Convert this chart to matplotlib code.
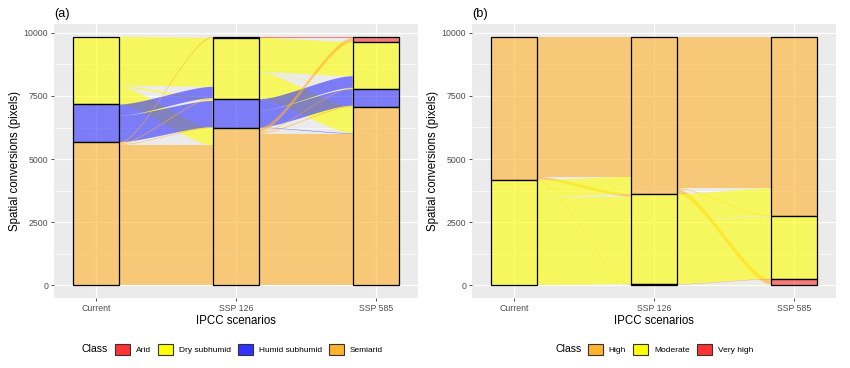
import numpy as np
import matplotlib
matplotlib.use("Agg")
import matplotlib.pyplot as plt
from matplotlib.patches import Patch
from matplotlib.colors import to_rgba

plt.rcParams['font.family'] = ['Liberation Sans', 'DejaVu Sans']

# ---------------- data ----------------
scenarios = ["Current", "SSP 126", "SSP 585"]

classes_a = ["Arid", "Dry subhumid", "Humid subhumid", "Semiarid"]
colors_a = ["#FF3333", "#FFFF00", "#3333FF", "#FFB22B"]
# transitions: rows = class at earlier scenario, cols = class at later scenario
flows_a_1 = [[0, 0, 0, 0],
             [0, 1935, 70, 680],
             [0, 450, 1040, 0],
             [50, 40, 30, 5552]]
flows_a_2 = [[50, 0, 0, 0],
             [0, 1353, 22, 1050],
             [0, 460, 657, 23],
             [160, 30, 40, 6002]]

classes_b = ["High", "Moderate", "Very high"]
colors_b = ["#FFB22B", "#FFFF00", "#FF3333"]
flows_b_1 = [[5549, 100, 30],
             [683, 3470, 10],
             [0, 0, 0]]
flows_b_2 = [[6002, 30, 200],
             [1086, 2477, 7],
             [0, 10, 30]]

yticks = [0, 2500, 5000, 7500, 10000]
ALPHA = 0.6


def draw_alluvial(ax, classes, colors, flow_list):
    n = len(classes)
    order = list(range(n))[::-1]  # bottom -> top
    mats = [np.array(f, float) for f in flow_list]
    totals = [m.sum(axis=1) for m in mats] + [mats[-1].sum(axis=0)]

    def bottoms(tot):
        b = np.zeros(n)
        acc = 0.0
        for k in order:
            b[k] = acc
            acc += tot[k]
        return b

    xs = np.arange(1, len(totals) + 1)
    w = 1 / 3
    u = np.linspace(0, 1, 120)
    bx = 3 * (1 - u) ** 2 * u * 0.25 + 3 * (1 - u) * u ** 2 * 0.75 + u ** 3
    by = 3 * (1 - u) * u ** 2 + u ** 3
    for i, m in enumerate(mats):
        bl = bottoms(totals[i])
        br = bottoms(totals[i + 1])
        left_pos, right_pos = {}, {}
        for f in range(n):
            acc = bl[f]
            for t in order:
                left_pos[(f, t)] = acc
                acc += m[f, t]
        for t in range(n):
            acc = br[t]
            for f in order:
                right_pos[(f, t)] = acc
                acc += m[f, t]
        x0 = xs[i] + w / 2
        x1 = xs[i + 1] - w / 2
        X = x0 + (x1 - x0) * bx
        for f in range(n):
            for t in range(n):
                v = m[f, t]
                if v <= 0:
                    continue
                y0 = left_pos[(f, t)]
                y1 = right_pos[(f, t)]
                lo = y0 + (y1 - y0) * by
                ax.fill_between(X, lo, lo + v, facecolor=to_rgba(colors[f], ALPHA),
                                lw=0, zorder=2)
    for i, tot in enumerate(totals):
        b = bottoms(tot)
        for k in range(n):
            if tot[k] <= 0:
                continue
            ax.bar(xs[i], tot[k], bottom=b[k], width=w,
                   facecolor=to_rgba(colors[k], ALPHA), edgecolor='black',
                   lw=0.9, zorder=3)
    grand = totals[0].sum()
    ax.set_ylim(-0.05 * grand, 1.05 * grand)
    ax.set_xlim(0.7, len(totals) + 0.3)


def style(ax, title):
    ax.set_facecolor('#EBEBEB')
    for s in ax.spines.values():
        s.set_visible(False)
    ax.set_axisbelow(True)
    ax.set_yticks(yticks)
    ax.set_yticks([1250, 3750, 6250, 8750], minor=True)
    ax.set_xticks([1, 2, 3])
    ax.set_xticklabels(scenarios)
    ax.grid(True, which='major', color='white', lw=0.9)
    ax.grid(True, which='minor', axis='y', color='white', lw=0.45)
    ax.tick_params(which='major', length=2.5, width=0.6, color='#333333',
                   labelsize=6.3, labelcolor='#4D4D4D', pad=1.8)
    ax.tick_params(which='minor', length=0)
    ax.set_xlabel("IPCC scenarios", fontsize=8.3, labelpad=1.5)
    ax.set_ylabel("Spatial conversions (pixels)", fontsize=8.3, labelpad=1.5)
    ax.set_title(title, loc='left', fontsize=9.2, pad=5)


fig = plt.figure(figsize=(8.5, 3.68), dpi=100)
axa = fig.add_axes([54 / 850, 1 - 297.7 / 368, 364 / 850, 273.4 / 368])
axb = fig.add_axes([472 / 850, 1 - 297.7 / 368, 364 / 850, 273.4 / 368])

draw_alluvial(axa, classes_a, colors_a, [flows_a_1, flows_a_2])
draw_alluvial(axb, classes_b, colors_b, [flows_b_1, flows_b_2])
style(axa, "(a)")
style(axb, "(b)")


def legend(classes, colors, x_title, x_leg):
    ly = 1 - 349.5 / 368
    fig.text(x_title / 850, ly, "Class", fontsize=7.6, va='center', ha='left')
    handles = [Patch(facecolor=c, edgecolor='#333333', lw=0.8) for c in colors]
    fig.legend(handles, classes, ncol=len(classes), loc='center left',
               bbox_to_anchor=(x_leg / 850, ly), frameon=False, fontsize=6,
               handlelength=1.8, handleheight=1.8, handletextpad=0.7,
               columnspacing=0.85, borderpad=0, borderaxespad=0)


legend(classes_a, colors_a, 82, 115)
legend(classes_b, colors_b, 555, 588)

fig.savefig("out.png", dpi=100)
